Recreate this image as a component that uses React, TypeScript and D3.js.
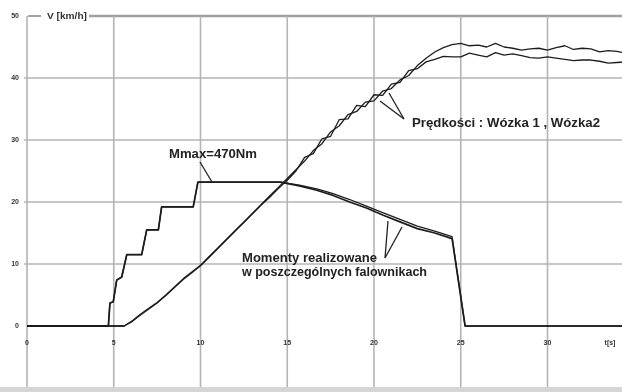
import React from "react";
import * as d3 from "d3";

// ---- data ----
const xTicks = [0, 5, 10, 15, 20, 25, 30];
const yTicks = [0, 10, 20, 30, 40, 50];

const speedTime = [
  0, 5.6, 6.0, 6.5, 7.0, 7.5, 8.0, 8.5, 9.0, 9.5, 10.0, 10.5, 11.0, 11.5, 12.0, 12.5, 13.0, 13.5,
  14.0, 14.5, 15.0, 15.5, 16.0, 16.5, 17.0, 17.5, 18.0, 18.5, 19.0, 19.5, 20.0, 20.5, 21.0, 21.5,
  22.0, 22.5, 23.0, 23.5, 24.0, 24.5, 25.0, 25.5, 26.0, 26.5, 27.0, 27.5, 28.0, 28.5, 29.0, 29.5,
  30.0, 30.5, 31.0, 31.5, 32.0, 32.5, 33.0, 33.5, 34.0, 34.5,
];
const speedWozek1 = [
  0, 0, 0.7, 1.8, 2.8, 3.8, 5.0, 6.3, 7.6, 8.7, 9.8, 11.2, 12.6, 14.0, 15.4, 16.8, 18.2, 19.6,
  21.0, 22.4, 23.8, 25.2, 26.6, 28.3, 29.4, 31.3, 32.3, 34.1, 34.6, 36.1, 36.3, 37.9, 38.3, 39.7,
  40.4, 42.0, 43.2, 44.2, 44.9, 45.4, 45.6, 45.2, 45.3, 45.0, 45.6, 45.0, 44.8, 44.5, 44.7, 44.8,
  44.5, 44.9, 45.2, 44.6, 44.8, 44.7, 44.2, 44.4, 44.3, 44.0,
];
const speedWozek2 = [
  0, 0, 0.6, 1.7, 2.7, 3.7, 4.9, 6.2, 7.5, 8.6, 9.7, 11.1, 12.5, 13.9, 15.3, 16.7, 18.1, 19.5,
  20.8, 22.2, 23.5, 25.0, 27.2, 27.8, 30.2, 30.6, 33.3, 33.4, 35.6, 35.4, 37.3, 37.2, 39.0, 39.3,
  41.2, 41.5, 42.6, 43.0, 43.5, 43.4, 43.4, 44.0, 43.7, 43.4, 44.1, 43.7, 43.9, 43.6, 43.3, 43.2,
  43.4, 43.2, 43.0, 42.8, 42.9, 42.9, 42.7, 42.4, 42.5, 42.6,
];

const torqueTime = [
  0, 4.69, 4.78, 4.97, 5.17, 5.46, 5.75, 6.61, 6.9, 7.57, 7.76, 9.58, 9.85, 14.6, 15.7, 16.7,
  17.6, 18.6, 19.6, 20.5, 21.5, 22.5, 23.5, 24.5, 25.25, 35,
];
const torque1 = [
  0, 0, 3.7, 3.9, 7.4, 7.9, 11.5, 11.5, 15.5, 15.5, 19.2, 19.2, 23.2, 23.2, 22.6, 21.9,
  21.1, 20.0, 19.0, 17.9, 16.8, 15.7, 15.0, 14.1, 0, 0,
];
const torque2 = [
  0, 0, 3.7, 3.9, 7.4, 7.9, 11.5, 11.5, 15.5, 15.5, 19.2, 19.2, 23.2, 23.2, 22.7, 22.1,
  21.4, 20.4, 19.3, 18.3, 17.2, 16.1, 15.3, 14.4, 0, 0,
];

const W = 622;
const H = 392;

export default function App() {
  const x = d3.scaleLinear().domain([0, 35]).range([27, 27 + 35 * 17.35]);
  const y = d3.scaleLinear().domain([0, 50]).range([326, 16]);

  const line = d3
    .line<[number, number]>()
    .x((d) => x(d[0]))
    .y((d) => y(d[1]));

  const s1 = line(speedTime.map((t, i) => [t, speedWozek1[i]]) as [number, number][]) || "";
  const s2 = line(speedTime.map((t, i) => [t, speedWozek2[i]]) as [number, number][]) || "";
  const m1 = line(torqueTime.map((t, i) => [t, torque1[i]]) as [number, number][]) || "";
  const m2 = line(torqueTime.map((t, i) => [t, torque2[i]]) as [number, number][]) || "";

  const lineColor = "#1e1e1e";
  const grid = "#b4b4b4";
  const font = "Liberation Sans, Arial, sans-serif";

  return (
    <svg
      width={W}
      height={H}
      style={{ position: "absolute", left: 0, top: 0, background: "#fff" }}
      fontFamily={font}
    >
      <defs>
        <filter id="soft" x="-5%" y="-5%" width="110%" height="110%">
          <feGaussianBlur stdDeviation="0.45" />
        </filter>
      </defs>
      <rect width={W} height={H} fill="#fff" />
      <g filter="url(#soft)">
        {/* horizontal grid */}
        {yTicks.filter((v) => v > 0 && v < 50).map((v) => (
          <line key={"h" + v} x1={x(0) - 3} x2={W} y1={y(v)} y2={y(v)} stroke={grid} strokeWidth={1.6} />
        ))}
        {/* top line */}
        <line x1={89} x2={W} y1={y(50)} y2={y(50)} stroke="#a0a0a0" strokeWidth={2.4} />
        <line x1={28} x2={41} y1={y(50)} y2={y(50)} stroke="#666" strokeWidth={1.2} />
        {/* vertical grid */}
        {xTicks.map((t) => (
          <line key={"v" + t} x1={x(t)} x2={x(t)} y1={y(50)} y2={H} stroke={grid} strokeWidth={1.6} />
        ))}
        {/* bottom band */}
        <rect x={0} y={387} width={W} height={5} fill="#d6d6d6" />

        {/* y labels */}
        {yTicks.map((v) => (
          <text key={"yl" + v} x={19} y={y(v)} dy="0.35em" textAnchor="end" fontSize={7} fontWeight="bold" fill="#333">
            {v}
          </text>
        ))}
        <text x={47} y={y(50)} dy="0.35em" fontSize={8.5} fontWeight="bold" fill="#333" textLength={40} lengthAdjust="spacingAndGlyphs">
          V [km/h]
        </text>
        {/* x labels */}
        {xTicks.map((t) => (
          <text key={"xl" + t} x={x(t)} y={343} dy="0.35em" textAnchor="middle" fontSize={7} fontWeight="bold" fill="#333">
            {t}
          </text>
        ))}
        <text x={610} y={343} dy="0.35em" textAnchor="middle" fontSize={7} fontWeight="bold" fill="#333">
          t[s]
        </text>

        {/* data */}
        <path d={m1} fill="none" stroke={lineColor} strokeWidth={1.7} strokeLinejoin="round" />
        <path d={m2} fill="none" stroke={lineColor} strokeWidth={1.3} strokeLinejoin="round" />
        <path d={s1} fill="none" stroke={lineColor} strokeWidth={1.3} strokeLinejoin="round" />
        <path d={s2} fill="none" stroke={lineColor} strokeWidth={1.3} strokeLinejoin="round" />

        {/* annotations */}
        <text x={169} y={158} fontSize={12} fontWeight="bold" fill="#222" textLength={88} lengthAdjust="spacingAndGlyphs">
          Mmax=470Nm
        </text>
        <line x1={200} y1={162} x2={212} y2={182} stroke="#222" strokeWidth={1.3} />

        <text x={412} y={127} fontSize={12} fontWeight="bold" fill="#222" textLength={188} lengthAdjust="spacingAndGlyphs">
          Prędkości : Wózka 1  , Wózka2
        </text>
        <line x1={404} y1={119} x2={380} y2={101} stroke="#222" strokeWidth={1.3} />
        <line x1={404} y1={119} x2={389} y2={93} stroke="#222" strokeWidth={1.3} />

        <text x={242} y={262} fontSize={12} fontWeight="bold" fill="#222" textLength={135} lengthAdjust="spacingAndGlyphs">
          Momenty realizowane
        </text>
        <text x={242} y={276} fontSize={12} fontWeight="bold" fill="#222" textLength={185} lengthAdjust="spacingAndGlyphs">
          w poszczególnych falownikach
        </text>
        <line x1={385} y1={258} x2={388} y2={221} stroke="#222" strokeWidth={1.3} />
        <line x1={385} y1={258} x2={402} y2={227} stroke="#222" strokeWidth={1.3} />
      </g>
    </svg>
  );
}
